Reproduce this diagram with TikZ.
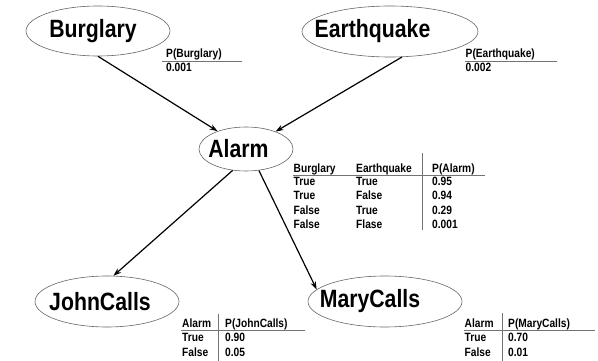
\documentclass[tikz,border=0pt]{standalone}
\usepackage{fontspec}
\usetikzlibrary{shapes.geometric,arrows.meta}
\newfontfamily\condsans[FakeStretch=0.85]{Liberation Sans}
% place a label left of the node centre by half of #1
\newcommand\leftby[2]{\makebox[0pt]{#2\hspace{#1}}}
\begin{document}
\begin{tikzpicture}[x=1pt,y=-1pt,
  var/.style={ellipse, draw=black!60, line width=0.6pt, inner sep=0pt,
    font=\condsans\bfseries\fontsize{25}{30}\selectfont},
  cell/.style={anchor=base west, inner sep=0pt,
    font=\condsans\bfseries\fontsize{12}{14}\selectfont},
  rule/.style={draw=black!55, line width=0.6pt},
  link/.style={-{Stealth[length=8pt,width=5.5pt]}, line width=1.2pt}]
\useasboundingbox (0,0) rectangle (598,361);

% variables of the network
\node[var, minimum width=144pt, minimum height=50pt] (burglary) at (98,31) {\leftby{10pt}{Burglary}};
\node[var, minimum width=176pt, minimum height=51pt] (earthquake) at (390,31.5) {\leftby{35pt}{Earthquake}};
\node[var, minimum width=94pt, minimum height=44pt] (alarm) at (246,149) {\leftby{15pt}{Alarm}};
\node[var, minimum width=144pt, minimum height=51pt] (john) at (107,301.5) {\leftby{14pt}{JohnCalls}};
\node[var, minimum width=154pt, minimum height=51pt] (mary) at (385,301.5) {\leftby{30pt}{MaryCalls}};

% causal links
\draw[link] (burglary.south) -- (alarm);
\draw[link] (earthquake.-65) -- (alarm);
\draw[link] (alarm.-122) -- (john.76);
\draw[link] (alarm.-59) -- (mary.170);

% prior of Burglary
\node[cell] (pb-head) at (166,57.5) {P(Burglary)};
\node[cell] (pb-val) at (166,72) {0.001};
\draw[rule] (162,61) -- (242,61);

% prior of Earthquake
\node[cell] (pe-head) at (465.5,57.5) {P(Earthquake)};
\node[cell] (pe-val) at (465.5,72) {0.002};
\draw[rule] (465,61) -- (557,61);

% conditional table of Alarm
\node[cell] (a-h1) at (293.5,172) {Burglary};
\node[cell] (a-h2) at (356,172) {Earthquake};
\node[cell] (a-h3) at (432,172) {P(Alarm)};
\node[cell] (a-r1a) at (293.5,185.5) {True};
\node[cell] (a-r1b) at (356,185.5) {True};
\node[cell] (a-r1c) at (432,185.5) {0.95};
\node[cell] (a-r2a) at (293.5,199.8) {True};
\node[cell] (a-r2b) at (356,199.8) {False};
\node[cell] (a-r2c) at (432,199.8) {0.94};
\node[cell] (a-r3a) at (293.5,214.1) {False};
\node[cell] (a-r3b) at (356,214.1) {True};
\node[cell] (a-r3c) at (432,214.1) {0.29};
\node[cell] (a-r4a) at (293.5,228.4) {False};
\node[cell] (a-r4b) at (356,228.4) {Flase};
\node[cell] (a-r4c) at (432,228.4) {0.001};
\draw[rule] (293,175) -- (485,175);
\draw[rule] (422,153) -- (422,230);

% conditional table of JohnCalls
\node[cell] (j-h1) at (182,327.3) {Alarm};
\node[cell] (j-h2) at (225,327.3) {P(JohnCalls)};
\node[cell] (j-r1a) at (182,341.7) {True};
\node[cell] (j-r1b) at (225,341.7) {0.90};
\node[cell] (j-r2a) at (182,356) {False};
\node[cell] (j-r2b) at (225,356) {0.05};
\draw[rule] (181,330.7) -- (305,330.7);
\draw[rule] (218.3,314) -- (218.3,361);

% conditional table of MaryCalls
\node[cell] (m-h1) at (464.5,327.3) {Alarm};
\node[cell] (m-h2) at (508,327.3) {P(MaryCalls)};
\node[cell] (m-r1a) at (464.5,341.7) {True};
\node[cell] (m-r1b) at (508,341.7) {0.70};
\node[cell] (m-r2a) at (464.5,356) {False};
\node[cell] (m-r2b) at (508,356) {0.01};
\draw[rule] (464,330.7) -- (595,330.7);
\draw[rule] (502,313) -- (502,361);
\end{tikzpicture}
\end{document}
